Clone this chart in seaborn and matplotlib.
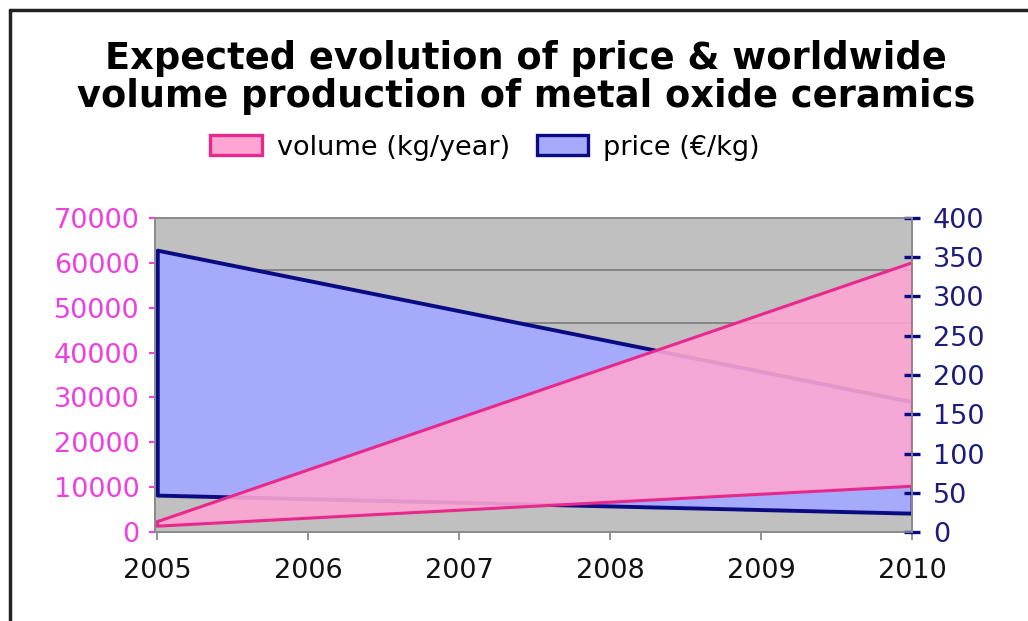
import matplotlib
matplotlib.use("Agg")
import matplotlib.pyplot as plt
from matplotlib.patches import Patch
from matplotlib.lines import Line2D
import numpy as np
import pandas as pd
import seaborn as sns

# Forecast endpoints (straight-line projections 2005 -> 2010)
years = [2005, 2010]
volume_high = [2300, 60000]    # kg/year, upper estimate
volume_low = [1300, 10200]     # kg/year, lower estimate
price_high = [359, 166]        # EUR/kg, upper estimate
price_low = [47, 24]           # EUR/kg, lower estimate

year_ticks = [2005, 2006, 2007, 2008, 2009, 2010]
volume_ticks = [0, 10000, 20000, 30000, 40000, 50000, 60000, 70000]
price_ticks = [0, 50, 100, 150, 200, 250, 300, 350, 400]

df = pd.DataFrame({
    "year": years,
    "volume_high": volume_high,
    "volume_low": volume_low,
    "price_high": price_high,
    "price_low": price_low,
})

sns.set_theme(style="white")
plt.rcParams["font.family"] = ["DejaVu Sans"]

PINK_FILL = "#FDA6D3"
PINK_EDGE = "#E8288C"
PINK_TEXT = "#EE3FE0"
BLUE_FILL = "#A5AAFA"
NAVY = "#0A0A82"
NAVY_TEXT = "#1C1C7A"
GRAY_BG = "#C0C0C0"
LABEL_SIZE = 19.5

fig = plt.figure(figsize=(10.28, 6.21), dpi=100)
fig.patch.set_facecolor("white")

# price band underneath, volume band on top, and a top-most axes that only
# carries the price scale so its tick marks stay visible over the fills
ax = fig.add_axes([0.1508, 0.1433, 0.7364, 0.5057])
ax2 = ax.twinx()
ax3 = ax.twinx()

ax.set_facecolor(GRAY_BG)
ax2.patch.set_visible(False)
ax3.patch.set_visible(False)

# price band
ax.fill_between(df["year"], df["price_low"], df["price_high"],
                facecolor=BLUE_FILL, edgecolor=NAVY, linewidth=2.8, zorder=2)
# volume band, slightly translucent so the price outline shows through faintly
ax2.fill_between(df["year"], df["volume_low"], df["volume_high"],
                 facecolor=PINK_FILL, edgecolor="none", alpha=0.9, zorder=2)
sns.lineplot(data=df, x="year", y="volume_high", ax=ax2, color=PINK_EDGE,
             linewidth=2.2, zorder=3)
sns.lineplot(data=df, x="year", y="volume_low", ax=ax2, color=PINK_EDGE,
             linewidth=2.2, zorder=3)
ax2.vlines(df["year"], df["volume_low"], df["volume_high"], color=PINK_EDGE,
           linewidth=2.2, zorder=3)

x0 = 2004.985
ax.set_xlim(x0, 2010)
ax.set_ylim(0, 400)
ax2.set_ylim(0, 70000)
ax3.set_ylim(0, 400)

# horizontal gridlines split the plot area into six bands
ax.set_yticks(np.linspace(0, 400, 7), minor=True)
ax.yaxis.grid(True, which="minor", color="#7A7A7A", linewidth=1.2)
ax.yaxis.grid(False, which="major")
ax.xaxis.grid(False)
ax.tick_params(axis="y", which="both", length=0, left=False, right=False,
               labelleft=False, labelright=False)

# right-hand price scale
ax3.yaxis.tick_right()
ax3.set_yticks(price_ticks)
ax3.set_yticklabels([str(v) for v in price_ticks])
ax3.tick_params(axis="y", which="major", direction="inout", length=11, width=2.4,
                color=NAVY, labelcolor=NAVY_TEXT, labelsize=LABEL_SIZE, pad=9.5,
                left=False, right=True, labelleft=False, labelright=True)
ax3.grid(False)

# left-hand volume scale
ax2.yaxis.tick_left()
ax2.yaxis.set_label_position("left")
ax2.set_yticks(volume_ticks)
ax2.set_yticklabels([str(v) for v in volume_ticks])
ax2.tick_params(axis="y", direction="out", length=4, width=1.5,
                color=PINK_TEXT, labelcolor=PINK_TEXT, labelsize=LABEL_SIZE, pad=7,
                left=True, right=False, labelleft=True, labelright=False)
ax2.grid(False)

ax.set_xticks(year_ticks)
ax.set_xticklabels([str(y) for y in year_ticks])
ax.tick_params(axis="x", direction="out", length=6, width=1.2, color="#808080",
               labelcolor="#111111", labelsize=LABEL_SIZE, pad=13, bottom=True)

for a in (ax, ax2, ax3):
    a.set_xlabel("")
    a.set_ylabel("")
    for s in a.spines.values():
        s.set_color("#8C8C8C")
        s.set_linewidth(1.2)

fig.text(0.512, 0.875, "Expected evolution of price & worldwide\nvolume production of metal oxide ceramics",
         ha="center", va="center", fontsize=26.5, fontweight="bold", color="black",
         linespacing=1.05)

handles = [
    Patch(facecolor=PINK_FILL, edgecolor=PINK_EDGE, linewidth=2.4, label="volume (kg/year)"),
    Patch(facecolor=BLUE_FILL, edgecolor=NAVY, linewidth=2.4, label="price (€/kg)"),
]
leg = fig.legend(handles=handles, loc="center", bbox_to_anchor=(0.472, 0.762), ncol=2,
                 frameon=False, fontsize=LABEL_SIZE, handlelength=1.9, handleheight=0.75,
                 handletextpad=0.55, columnspacing=1.0)
for t in leg.get_texts():
    t.set_color("black")

# outer frame
fig.add_artist(Line2D([0.0097, 1.0], [0.984, 0.984], transform=fig.transFigure,
                      color="#222222", linewidth=2.5))
fig.add_artist(Line2D([0.0097, 0.0097], [0.0, 0.984], transform=fig.transFigure,
                      color="#222222", linewidth=2.5))

fig.savefig("out.png", dpi=100, facecolor="white")
